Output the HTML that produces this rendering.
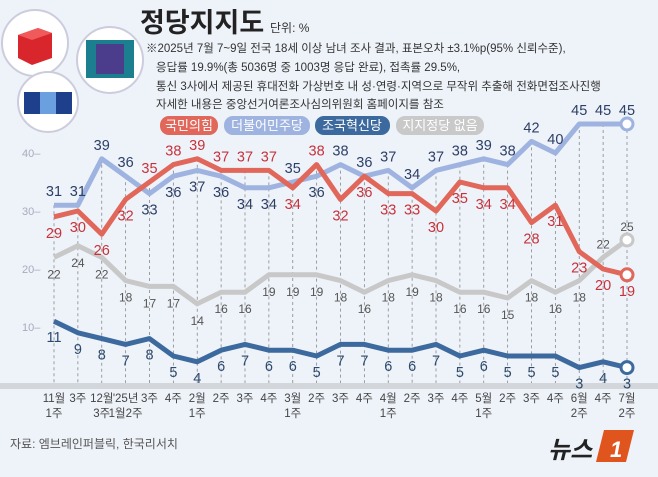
<!DOCTYPE html>
<html><head><meta charset="utf-8"><style>
body{margin:0;width:658px;height:472px;background:#eef3fa;overflow:hidden;font-family:"Liberation Sans","Noto Sans CJK KR",sans-serif}
</style></head><body>
<svg width="658" height="472" viewBox="0 0 658 472" xmlns="http://www.w3.org/2000/svg">
<rect width="658" height="472" fill="#eef3fa"/>
<g>
<circle cx="35" cy="43" r="33" fill="#fff" stroke="#ccd" stroke-width="2"/>
<polygon points="18,35 38,28 52,33 52,58 32,65 18,58" fill="#d9262c"/>
<polygon points="18,35 38,28 52,33 32,40" fill="#f05a5a"/>
<circle cx="110" cy="60" r="33" fill="#fff" stroke="#ccd" stroke-width="2"/>
<rect x="86" y="40" width="48" height="38" fill="#1b7f8f"/><rect x="96" y="44" width="28" height="30" fill="#4c3c8c"/>
<circle cx="48" cy="102" r="30" fill="#fff" stroke="#ccd" stroke-width="2"/>
<rect x="24" y="92" width="48" height="22" fill="#1d3f8c"/><rect x="40" y="92" width="16" height="22" fill="#6aa0e0"/>
</g>
<text x="140" y="32" font-size="27" font-weight="bold" fill="#222">정당지지도</text>
<text x="270" y="32" font-size="12" fill="#333">단위: %</text>
<g font-size="11.5" fill="#333">
<text x="146" y="52">※2025년 7월 7~9일 전국 18세 이상 남녀 조사 결과, 표본오차 ±3.1%p(95% 신뢰수준),</text>
<text x="156" y="71">응답률 19.9%(총 5036명 중 1003명 응답 완료), 접촉률 29.5%,</text>
<text x="156" y="90">통신 3사에서 제공된 휴대전화 가상번호 내 성·연령·지역으로 무작위 추출해 전화면접조사진행</text>
<text x="156" y="108">자세한 내용은 중앙선거여론조사심의위원회 홈페이지를 참조</text>
</g>
<g font-size="13" fill="#fff" text-anchor="middle">
<rect x="160" y="116" width="58" height="19" rx="9" fill="#e0675a"/><text x="189" y="130">국민의힘</text>
<rect x="224" y="116" width="86" height="19" rx="9" fill="#9fb3e0"/><text x="267" y="130">더불어민주당</text>
<rect x="315" y="116" width="75" height="19" rx="9" fill="#3d6a9e"/><text x="352" y="130">조국혁신당</text>
<rect x="396" y="116" width="88" height="19" rx="9" fill="#c9c9c9"/><text x="440" y="130">지지정당 없음</text>
</g>
<rect x="0" y="383" width="658" height="6" fill="#d3d6db"/>
<g id="chart"></g>
<text x="10" y="448" font-size="12" fill="#555">자료: 엠브레인퍼블릭, 한국리서치</text>
<g>
<text x="548" y="458" font-size="24" font-weight="bold" font-style="italic" fill="#222">뉴스</text>
<path d="M604 430 h30 l-8 32 h-30 z" fill="#e0541e"/><text x="610" y="457" font-size="22" font-weight="bold" font-style="italic" fill="#fff">1</text>
</g>
</svg>
<script>
const cats1=["11월","3주","12월","'25년","3주","4주","2월","2주","3주","4주","3월","2주","3주","4주","4월","2주","3주","4주","5월","2주","3주","4주","6월","4주","7월"];
const cats2=["1주","","3주","1월2주","","","1주","","","","1주","","","","1주","","","","1주","","","","2주","","2주"];
const ppp=[29,30,26,32,35,38,39,37,37,37,34,38,32,36,33,33,30,35,34,34,28,31,23,20,19];
const dem=[31,31,39,36,33,36,37,36,34,34,35,36,38,36,37,34,37,38,39,38,42,40,45,45,45];
const none=[22,24,22,18,17,17,14,16,16,19,19,19,18,16,18,19,18,16,16,15,18,16,18,22,25];
const reb=[11,9,8,7,8,5,4,6,7,6,6,5,7,7,6,6,7,5,6,5,5,5,3,4,3];
const yTicks=[10,20,30,40];
const NS="http://www.w3.org/2000/svg";
const g=document.getElementById('chart');
const X=i=>54+i*(627-54)/(cats1.length-1);
const Y=v=>385-5.8*v;
function el(t,a,p){const e=document.createElementNS(NS,t);for(const k in a)e.setAttribute(k,a[k]);(p||g).appendChild(e);return e;}
yTicks.forEach(t=>{const e=el('text',{x:22,y:Y(t)+4,'font-size':11,fill:'#aab'});e.textContent=t+'–';

});
cats1.forEach((c,i)=>{
 const top=Math.min(Y(ppp[i]),Y(dem[i]));
 const l=el('line',{x1:X(i),x2:X(i),y1:top,y2:383,stroke:'#888','stroke-dasharray':'3,3','stroke-width':0.8});
 
 
 const t=el('text',{x:X(i),y:402,'font-size':11.5,fill:'#444','text-anchor':'middle'});t.textContent=c;
 
 
 if(cats2[i]){const t2=el('text',{x:X(i),y:417,'font-size':11.5,fill:'#444','text-anchor':'middle'});t2.textContent=cats2[i];
 
 }
});
function series(vals,color,lab,name,posFn){
 const p=el('polyline',{points:vals.map((v,i)=>X(i)+','+Y(v)).join(' '),fill:'none',stroke:color,'stroke-width':5,'stroke-linejoin':'round'});
 
 
 const n=vals.length-1;
 const c=el('circle',{cx:X(n),cy:Y(vals[n]),r:6,fill:'#fff',stroke:color,'stroke-width':3});
 
 
 vals.forEach((v,i)=>{const up=posFn(i);
  const t=el('text',{x:X(i),y:up?Y(v)-9:Y(v)+21,'font-size':name==='none'?12:14.5,fill:lab,'text-anchor':'middle'});
  t.textContent=v;
  
  });
}
series(none,'#c8c8c8','#555','none',i=>i>=23);
series(reb,'#3d6a9e','#2d4a6e','rebuilding',i=>false);
series(dem,'#9fb3e0','#2d3f66','democratic',i=>dem[i]>=ppp[i]);
series(ppp,'#e0675a','#c8323a','ppp',i=>ppp[i]>dem[i]);
</script>
</body></html>
